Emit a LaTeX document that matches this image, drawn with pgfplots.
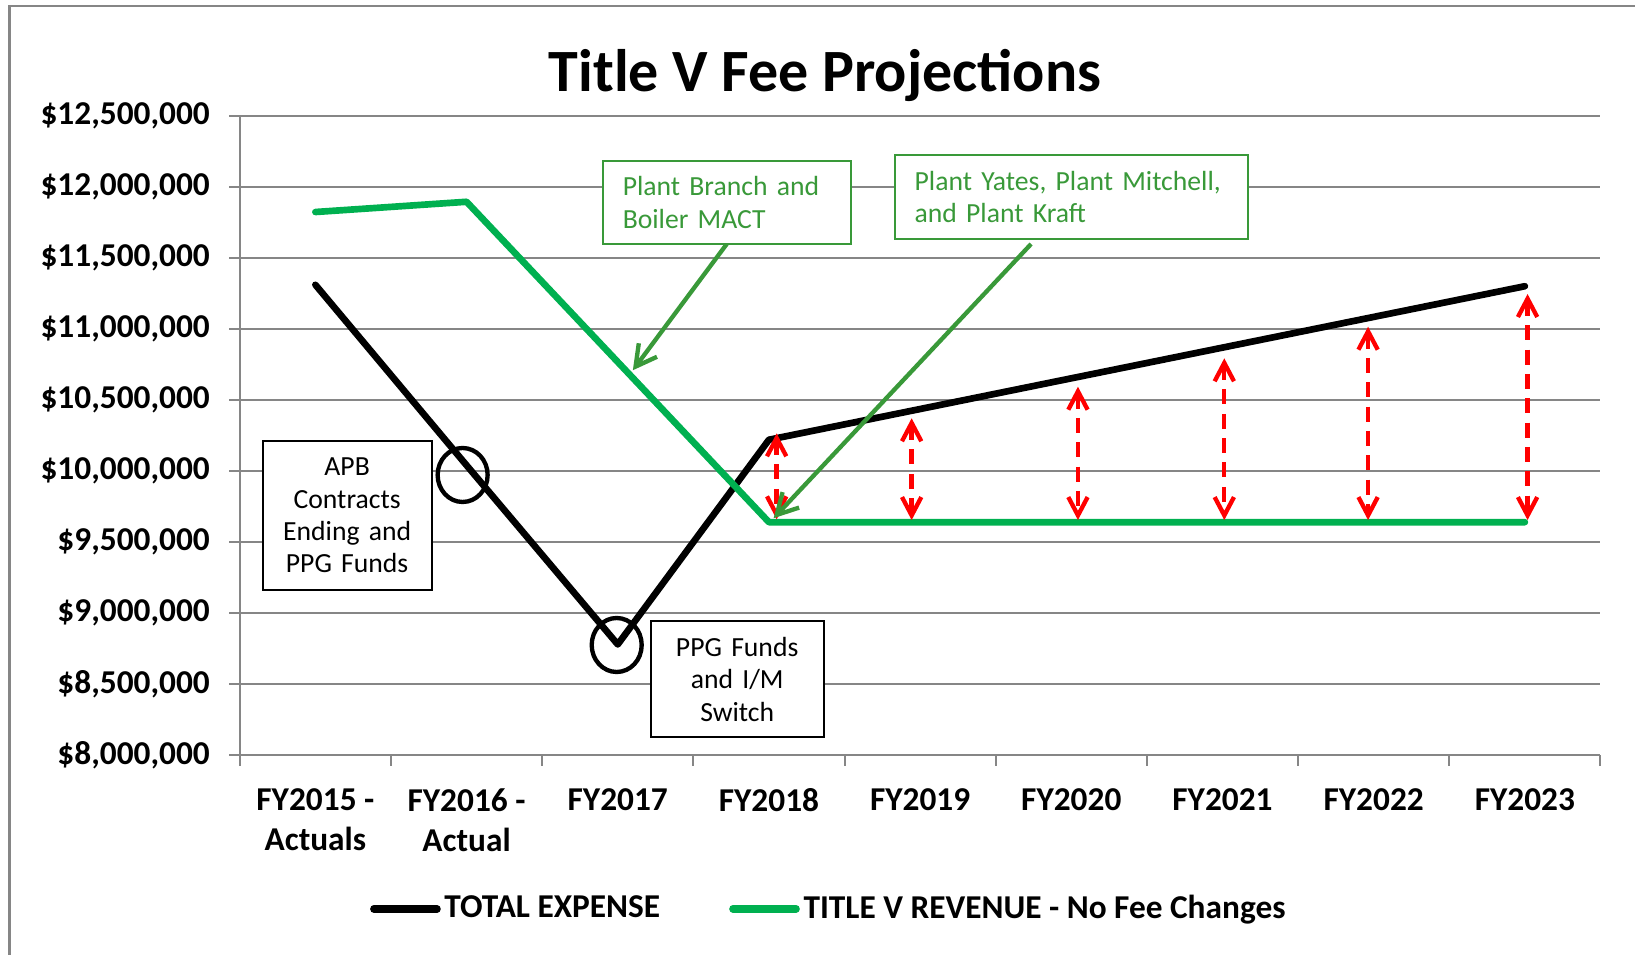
\documentclass[border=0pt]{standalone}
\usepackage{fontspec}
\setmainfont{Carlito}
\usepackage{pgfplots}
\pgfplotsset{compat=1.18}
\usetikzlibrary{arrows.meta}
\definecolor{seriesgreen}{RGB}{0,176,80}
\definecolor{annogreen}{RGB}{57,153,57}
\definecolor{gridgray}{RGB}{134,134,134}
\tikzset{
  redarr/.style={red, line width=1.3pt, dash pattern=on 4.5pt off 2.8pt,
    arrows={Straight Barb[length=5.5pt,width=5.8pt]-Straight Barb[length=5.5pt,width=5.8pt]}},
  greenarr/.style={annogreen, line width=1.3pt,
    arrows={-Straight Barb[length=6.2pt,width=6.8pt]}},
  annofont/.style={font=\fontsize{8.3}{9.7}\selectfont},
}
\begin{document}
\begin{tikzpicture}
\begin{axis}[
  scale only axis, width=408.2pt, height=191.9pt,
  xmin=-0.5, xmax=8.5, ymin=8000000, ymax=12500000,
  enlargelimits=false,
  scaled y ticks=false,
  axis x line*=bottom, axis y line*=left,
  axis line style={gridgray, line width=0.6pt, -},
  ymajorgrids, grid style={gridgray, line width=0.6pt},
  tick align=outside, major tick length=3.2pt,
  tick style={gridgray, line width=0.6pt},
  xtick={-0.5,0.5,...,8.5},
  xticklabels={},
  extra x ticks={0,1,2,3,4,5,6,7,8},
  extra x tick labels={{FY2015 -\\Actuals},{FY2016 -\\Actual},FY2017,FY2018,FY2019,FY2020,FY2021,FY2022,FY2023},
  extra x tick style={major tick length=0pt, grid=none},
  x tick label style={align=center, font=\bfseries, anchor=north, inner sep=0pt, yshift=-9.8pt},
  ytick={8000000,8500000,9000000,9500000,10000000,10500000,11000000,11500000,12000000,12500000},
  yticklabels={{\$8,000,000},{\$8,500,000},{\$9,000,000},{\$9,500,000},{\$10,000,000},{\$10,500,000},{\$11,000,000},{\$11,500,000},{\$12,000,000},{\$12,500,000}},
  y tick label style={font=\bfseries, anchor=east, inner sep=0pt, xshift=-5.6pt},
  /pgf/number format/assume math mode=true,
  clip=false,
  legend style={at={(0.4335,-0.2402)}, anchor=center, draw=none, fill=none,
    legend columns=2, font=\bfseries,
    nodes={inner sep=1.1pt},
    /tikz/every even column/.append style={column sep=19.6pt}},
  legend cell align=left,
  legend image code/.code={\draw[#1, line width=2.2pt, line cap=round] (0pt,0pt) -- (19pt,0pt);},
]
\addplot[black, line width=2pt, line join=round, line cap=round, mark=none] coordinates {
  (0,11310000) (1,10040000) (2,8780000) (3,10220000) (4,10436000)
  (5,10652000) (6,10868000) (7,11084000) (8,11300000)};
\addlegendentry{TOTAL EXPENSE}
\addplot[seriesgreen, line width=2pt, line join=round, line cap=round, mark=none] coordinates {
  (0,11822000) (1,11894000) (2,10767000) (3,9640000) (4,9640000)
  (5,9640000) (6,9640000) (7,9640000) (8,9640000)};
\addlegendentry{TITLE V REVENUE - No Fee Changes}

% red gap arrows
\addplot[forget plot, redarr, mark=none] coordinates {(3.051,10265000) (3.051,9660000)};
\addplot[forget plot, redarr, mark=none] coordinates {(3.944,10371000) (3.944,9655000)};
\addplot[forget plot, redarr, mark=none] coordinates {(5.044,10593000) (5.044,9655000)};
\addplot[forget plot, redarr, mark=none] coordinates {(6.012,10793000) (6.012,9655000)};
\addplot[forget plot, redarr, mark=none] coordinates {(6.963,11015000) (6.963,9655000)};
\addplot[forget plot, redarr, mark=none] coordinates {(8.018,11245000) (8.018,9655000)};

% green callout arrows
\addplot[forget plot, greenarr, mark=none] coordinates {(2.721,11597000) (2.100,10709000)};
\addplot[forget plot, greenarr, mark=none] coordinates {(4.734,11597000) (3.031,9668000)};

% circles
\draw[black, line width=1.3pt] (axis cs:0.974,9972000) ellipse [x radius=7.5pt, y radius=8.1pt];
\draw[black, line width=1.3pt] (axis cs:1.993,8776000) ellipse [x radius=7.5pt, y radius=8.1pt];

% boxes
\node[draw=annogreen, fill=white, line width=0.6pt, text=annogreen, annofont,
  text width=62.4pt, inner xsep=6pt, inner ysep=0pt, minimum height=25pt, align=left]
  at (axis cs:2.721,11890000) {Plant Branch and\\Boiler MACT};
\node[draw=annogreen, fill=white, line width=0.6pt, text=annogreen, annofont,
  text width=94pt, inner xsep=6pt, inner ysep=0pt, minimum height=25pt, align=left]
  at (axis cs:5.000,11927000) {Plant Yates, Plant Mitchell,\\and Plant Kraft};
\node[draw=black, fill=white, line width=0.6pt, annofont,
  text width=46.7pt, inner xsep=2pt, inner ysep=0pt, minimum height=44.7pt, align=center]
  at (axis cs:0.210,9686000) {APB\\Contracts\\Ending and\\PPG Funds};
\node[draw=black, fill=white, line width=0.6pt, annofont,
  text width=47.9pt, inner xsep=2pt, inner ysep=0pt, minimum height=34.7pt, align=center]
  at (axis cs:2.790,8535000) {PPG Funds\\and I/M\\Switch};
\end{axis}
\node[font=\fontsize{18}{21}\selectfont\bfseries, anchor=base, inner sep=0pt]
  at (175.6pt,199.05pt) {Title V Fee Projections};
\draw[gridgray, line width=0.75pt] (-69.1pt,-80pt) -- (-69.1pt,224.8pt) -- (440pt,224.8pt);
\pgfresetboundingbox
\path (-71.94pt,-59.91pt) rectangle (418.56pt,226.59pt);
\end{tikzpicture}
\end{document}
